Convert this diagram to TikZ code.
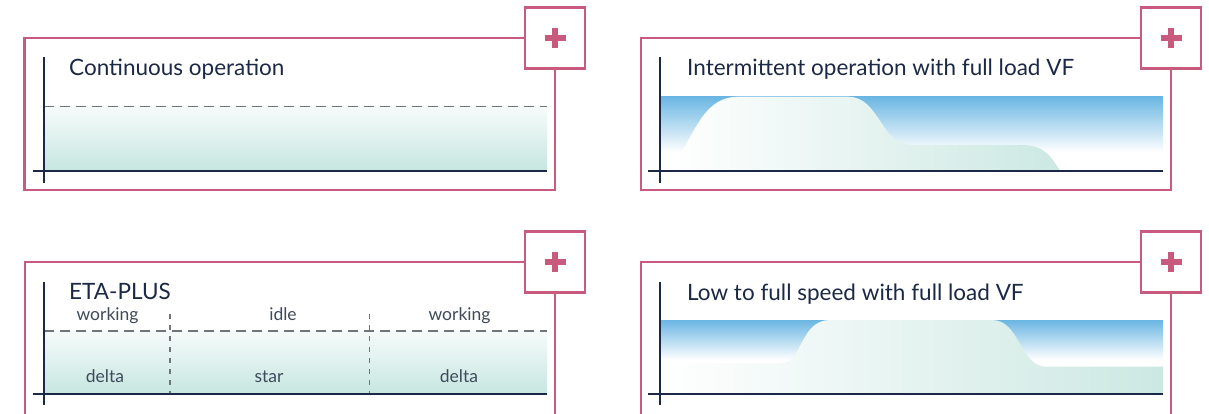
\documentclass[tikz,border=0pt]{standalone}
\usepackage{fontspec}
\setmainfont{Lato}
\definecolor{pinkc}{HTML}{C85A7D}
\definecolor{navy}{HTML}{1C2946}
\definecolor{labc}{HTML}{3E4A5C}
\definecolor{blueband}{HTML}{6AB6E3}
\definecolor{tealc}{HTML}{C6E6E0}
\definecolor{tealtop}{HTML}{F6FBFA}
\definecolor{shapeteal}{HTML}{CCE8E2}
\definecolor{dashgray}{HTML}{70757C}
\begin{document}
\begin{tikzpicture}[x=1pt,y=-1pt,
  panel/.style={draw=pinkc, line width=2.2pt},
  plusbox/.style={draw=pinkc, fill=white, line width=2.2pt, minimum width=60pt, minimum height=61pt, inner sep=0pt,
    path picture={
      \draw[pinkc, line width=5.5pt] ([xshift=-10.5pt]path picture bounding box.center) -- ([xshift=10.5pt]path picture bounding box.center);
      \draw[pinkc, line width=5.5pt] ([yshift=-10pt]path picture bounding box.center) -- ([yshift=10pt]path picture bounding box.center);
    }},
  axisline/.style={draw=navy, line width=2.3pt},
  dashline/.style={draw=dashgray, line width=1.4pt, dash pattern=on 9.5pt off 6.5pt},
  vdash/.style={draw=dashgray, line width=1.3pt, dash pattern=on 5pt off 6pt},
  titletext/.style={anchor=base west, inner sep=0pt, text=navy, font=\fontsize{22.5}{26}\selectfont},
  labtext/.style={anchor=base, inner sep=0pt, text=labc, font=\fontsize{17.5}{21}\selectfont},
]
\useasboundingbox (0,0) rectangle (1209,413);
\fill[white] (0,0) rectangle (1209,413);
\begin{scope}
\clip (0,0) rectangle (1209,413);

% ---------- Panel 1 ----------
\draw[panel] (24.5,38) rectangle (555,190);
\shade[top color=tealtop, bottom color=tealc] (44,106.7) rectangle (547,170.7);
\draw[dashline] (44,106.7) -- (547,106.7);
\draw[axisline] (44,56.7) -- (44,182.7);
\draw[axisline] (32.5,170.7) -- (547,170.7);
\node[titletext] (t1) at (69,75) {Continuous operation};
\node[plusbox] (p1) at (555,38) {};

% ---------- Panel 2 ----------
\draw[panel] (640.7,38) rectangle (1171,190);
\shade[top color=blueband, bottom color=white] (660,96.7) rectangle (1163,152);
\shade[left color=white, right color=shapeteal]
  (672,170.7) .. controls (695,130) and (705,96.7) .. (738,96.7)
  -- (848,96.7) .. controls (880,96.7) and (880,145) .. (912,145)
  -- (1022,145) .. controls (1045,145) and (1052,158) .. (1060,170.7) -- cycle;
\draw[axisline] (660,56.7) -- (660,182.7);
\draw[axisline] (648,170.7) -- (1163,170.7);
\node[titletext] (t2) at (687,75) {Intermittent operation with full load VF};
\node[plusbox] (p2) at (1171,38) {};

% ---------- Panel 3 ----------
\draw[panel] (25,262) rectangle (555,416);
\shade[top color=tealtop, bottom color=tealc] (44,331) rectangle (547,394);
\draw[dashline] (44,331) -- (547,331);
\draw[vdash] (170,314) -- (170,393);
\draw[vdash] (369.5,314) -- (369.5,393);
\draw[axisline] (44,281.7) -- (44,405);
\draw[axisline] (32.5,394) -- (547,394);
\node[titletext] (t3) at (69,299) {ETA-PLUS};
\node[labtext] (w1) at (107.5,320) {working};
\node[labtext] (i1) at (283,320) {idle};
\node[labtext] (w2) at (459.5,320) {working};
\node[labtext] (d1) at (105,382) {delta};
\node[labtext] (s1) at (269,382) {star};
\node[labtext] (d2) at (459,382) {delta};
\node[plusbox] (p3) at (555,262) {};

% ---------- Panel 4 ----------
\draw[panel] (640.7,262) rectangle (1171,416);
\shade[top color=blueband, bottom color=white] (660,320) rectangle (1163,360);
\shade[left color=white, right color=shapeteal]
  (660,394.3) -- (660,363.3) -- (782,363.3)
  .. controls (802,363.3) and (800,320) .. (830,320)
  -- (992,320) .. controls (1020,320) and (1020,366.7) .. (1046,366.7)
  -- (1163,366.7) -- (1163,394.3) -- cycle;
\draw[axisline] (660,281.7) -- (660,405);
\draw[axisline] (648,394.3) -- (1163,394.3);
\node[titletext] (t4) at (687,300) {Low to full speed with full load VF};
\node[plusbox] (p4) at (1171,262) {};
\end{scope}
\end{tikzpicture}
\end{document}
